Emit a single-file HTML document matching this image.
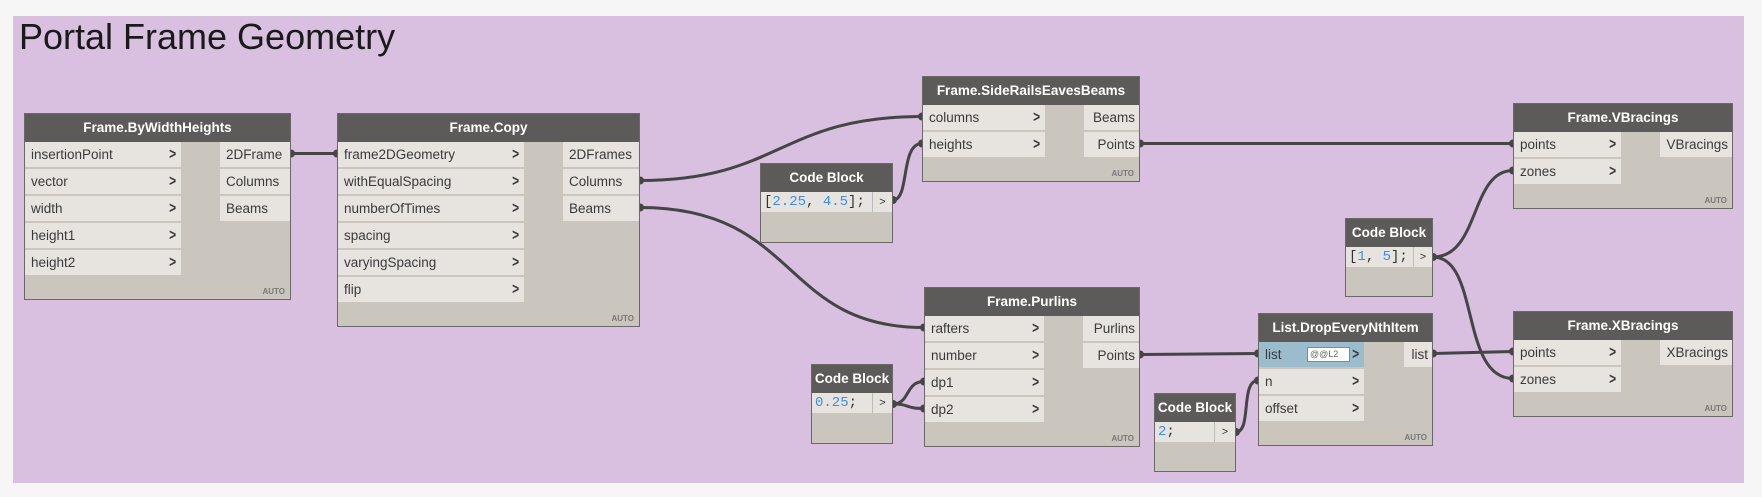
<!DOCTYPE html><html><head><meta charset="utf-8"><style>
*{box-sizing:border-box;margin:0;padding:0}
body{width:1762px;height:497px;background:#f6f6f6;position:relative;overflow:hidden;font-family:"Liberation Sans",sans-serif}
#bg{position:absolute;left:13px;top:16px;width:1731px;height:467px;background:#d9bfe0}
#title{position:absolute;left:19px;top:16px;font-size:36px;color:#1a1a1a}
.n{position:absolute;background:#cbc6bd;border:1px solid #6b6967}
.h{position:absolute;left:0;top:0;right:0;height:28px;background:#5d5b59;color:#fff;font-weight:bold;font-size:13.5px;text-align:center;line-height:28px}
.i,.o{position:absolute;height:25px;background:#e7e4df;font-size:13.5px;color:#3a3a3a;line-height:25px}
.i{left:0;padding-left:6px}
.i b{position:absolute;right:4px;top:0;color:#3a3a3a;font-size:16px;transform:scaleX(.75)}
.o{right:0;text-align:right;padding-right:4px}
.a{position:absolute;right:5px;bottom:3px;font-size:8px;font-weight:bold;color:#777}
.c{position:absolute;left:0;top:28px;height:20px;background:#e7e4df;font-family:"Liberation Mono",monospace;font-size:14px;line-height:20px;padding-left:3px;color:#333}
.c span{color:#3a8ee6}
.g{position:absolute;top:28px;right:0;height:20px;background:#e7e4df;border-left:1px solid #bbb;font-size:11px;line-height:20px;text-align:center;color:#333}
svg{position:absolute;left:0;top:0}
</style></head><body>
<div id="bg"></div>
<div id="title">Portal Frame Geometry</div>
<svg width="1762" height="497"><g fill="none" stroke="#454545" stroke-width="3">
<path d="M291 153.5 L337 153.5"/>
<path d="M640 180.5 C780 180.5 780 116.5 922 116.5"/>
<path d="M640 207.5 C800 207.5 780 327.5 924 327.5"/>
<path d="M893 200 C910 200 900 143.5 922 143.5"/>
<path d="M1140 143.5 L1513 143.5"/>
<path d="M1433 257 C1480 257 1470 170.5 1513 170.5"/>
<path d="M1433 257 C1480 257 1460 378.5 1513 378.5"/>
<path d="M1140 354.5 L1258 353.5"/>
<path d="M893 404 C910 404 905 381.5 924 381.5"/>
<path d="M893 404 C910 404 905 408.5 924 408.5"/>
<path d="M1236 432 C1252 432 1240 380.5 1258 380.5"/>
<path d="M1433 353.5 L1513 351.5"/>
</g><g fill="#454545">
<circle cx="291" cy="153.5" r="4"/><circle cx="337" cy="153.5" r="4"/><circle cx="640" cy="180.5" r="4"/><circle cx="640" cy="207.5" r="4"/><circle cx="922" cy="116.5" r="4"/><circle cx="922" cy="143.5" r="4"/><circle cx="924" cy="327.5" r="4"/><circle cx="893" cy="200" r="4"/><circle cx="1140" cy="143.5" r="4"/><circle cx="1513" cy="143.5" r="4"/><circle cx="1513" cy="170.5" r="4"/><circle cx="1513" cy="351.5" r="4"/><circle cx="1513" cy="378.5" r="4"/><circle cx="1433" cy="257" r="4"/><circle cx="1140" cy="354.5" r="4"/><circle cx="1258" cy="353.5" r="4"/><circle cx="893" cy="404" r="4"/><circle cx="924" cy="381.5" r="4"/><circle cx="924" cy="408.5" r="4"/><circle cx="1236" cy="432" r="4"/><circle cx="1258" cy="380.5" r="4"/><circle cx="1433" cy="353.5" r="4"/>
</g></svg>

<div class="n" style="left:24px;top:113px;width:267px;height:187px"><div class="h">Frame.ByWidthHeights</div>
<div class="i" style="top:28px;width:156px">insertionPoint<b>&gt;</b></div>
<div class="i" style="top:55px;width:156px">vector<b>&gt;</b></div>
<div class="i" style="top:82px;width:156px">width<b>&gt;</b></div>
<div class="i" style="top:109px;width:156px">height1<b>&gt;</b></div>
<div class="i" style="top:136px;width:156px">height2<b>&gt;</b></div>
<div class="o" style="top:28px;width:70px;text-align:left;padding-left:6px">2DFrame</div>
<div class="o" style="top:55px;width:70px;text-align:left;padding-left:6px">Columns</div>
<div class="o" style="top:82px;width:70px;text-align:left;padding-left:6px">Beams</div>
<div class="a">AUTO</div></div>

<div class="n" style="left:337px;top:113px;width:303px;height:214px"><div class="h">Frame.Copy</div>
<div class="i" style="top:28px;width:186px">frame2DGeometry<b>&gt;</b></div>
<div class="i" style="top:55px;width:186px">withEqualSpacing<b>&gt;</b></div>
<div class="i" style="top:82px;width:186px">numberOfTimes<b>&gt;</b></div>
<div class="i" style="top:109px;width:186px">spacing<b>&gt;</b></div>
<div class="i" style="top:136px;width:186px">varyingSpacing<b>&gt;</b></div>
<div class="i" style="top:163px;width:186px">flip<b>&gt;</b></div>
<div class="o" style="top:28px;width:76px;text-align:left;padding-left:6px">2DFrames</div>
<div class="o" style="top:55px;width:76px;text-align:left;padding-left:6px">Columns</div>
<div class="o" style="top:82px;width:76px;text-align:left;padding-left:6px">Beams</div>
<div class="a">AUTO</div></div>

<div class="n" style="left:922px;top:76px;width:218px;height:106px"><div class="h">Frame.SideRailsEavesBeams</div>
<div class="i" style="top:28px;width:122px">columns<b>&gt;</b></div>
<div class="i" style="top:55px;width:122px">heights<b>&gt;</b></div>
<div class="o" style="top:28px;width:55px">Beams</div>
<div class="o" style="top:55px;width:55px">Points</div>
<div class="a">AUTO</div></div>

<div class="n" style="left:760px;top:163px;width:133px;height:80px"><div class="h">Code Block</div>
<div class="c" style="width:113px">[<span>2.25</span>, <span>4.5</span>];</div><div class="g" style="width:20px">&gt;</div></div>

<div class="n" style="left:924px;top:287px;width:216px;height:160px"><div class="h">Frame.Purlins</div>
<div class="i" style="top:28px;width:119px">rafters<b>&gt;</b></div>
<div class="i" style="top:55px;width:119px">number<b>&gt;</b></div>
<div class="i" style="top:82px;width:119px">dp1<b>&gt;</b></div>
<div class="i" style="top:109px;width:119px">dp2<b>&gt;</b></div>
<div class="o" style="top:28px;width:56px">Purlins</div>
<div class="o" style="top:55px;width:56px">Points</div>
<div class="a">AUTO</div></div>

<div class="n" style="left:811px;top:364px;width:82px;height:80px"><div class="h">Code Block</div>
<div class="c" style="width:62px"><span>0.25</span>;</div><div class="g" style="width:20px">&gt;</div></div>

<div class="n" style="left:1154px;top:393px;width:82px;height:79px"><div class="h">Code Block</div>
<div class="c" style="width:61px"><span>2</span>;</div><div class="g" style="width:21px">&gt;</div></div>

<div class="n" style="left:1258px;top:313px;width:175px;height:133px"><div class="h">List.DropEveryNthItem</div>
<div class="i" style="top:28px;width:105px;background:#9bbccd">list<span style="position:absolute;left:48px;top:5px;width:43px;height:15px;background:#fff;border:1px solid #888;font-size:9px;line-height:13px;color:#666;padding-left:2px">@@L2</span><b>&gt;</b></div>
<div class="i" style="top:55px;width:105px">n<b>&gt;</b></div>
<div class="i" style="top:82px;width:105px">offset<b>&gt;</b></div>
<div class="o" style="top:28px;width:28px">list</div>
<div class="a">AUTO</div></div>

<div class="n" style="left:1345px;top:218px;width:88px;height:79px"><div class="h">Code Block</div>
<div class="c" style="width:69px">[<span>1</span>, <span>5</span>];</div><div class="g" style="width:19px">&gt;</div></div>

<div class="n" style="left:1513px;top:103px;width:220px;height:106px"><div class="h">Frame.VBracings</div>
<div class="i" style="top:28px;width:107px">points<b>&gt;</b></div>
<div class="i" style="top:55px;width:107px">zones<b>&gt;</b></div>
<div class="o" style="top:28px;width:72px">VBracings</div>
<div class="a">AUTO</div></div>

<div class="n" style="left:1513px;top:311px;width:220px;height:106px"><div class="h">Frame.XBracings</div>
<div class="i" style="top:28px;width:107px">points<b>&gt;</b></div>
<div class="i" style="top:55px;width:107px">zones<b>&gt;</b></div>
<div class="o" style="top:28px;width:72px">XBracings</div>
<div class="a">AUTO</div></div>
</body></html>
